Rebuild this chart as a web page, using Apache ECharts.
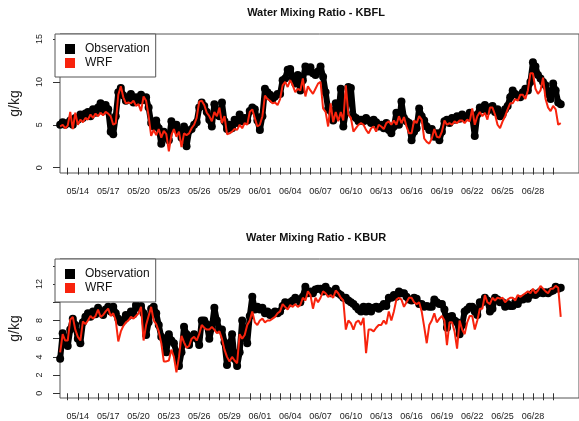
<!DOCTYPE html>
<html>
<head>
<meta charset="utf-8">
<script src="https://cdn.jsdelivr.net/npm/echarts@6/dist/echarts.min.js"></script>
<style>
  html, body { margin: 0; padding: 0; background: #fff; }
  #chart { width: 579px; height: 421px; }
</style>
</head>
<body>
<div id="chart"></div>
<script>
// Six-hourly samples; time is counted in days from the start of May
// (14 May 00:00 = 14, 1 June 00:00 = 32).
const firstSample = 12.25;   // 12 May 06:00
const sampleStep = 0.25;     // 6 hours

const dateLabels = ['05/14', '05/17', '05/20', '05/23', '05/26', '05/29', '06/01', '06/04',
                    '06/07', '06/10', '06/13', '06/16', '06/19', '06/22', '06/25', '06/28'];

const kbflTicks = [0, 5, 10, 15];
const kbflTickLabels = [0, 5, 10, 15];
const kburTicks = [0, 2, 4, 6, 8, 10, 12, 14];
const kburTickLabels = [0, 2, 4, 6, 8, 12];

// Water mixing ratio (g/kg) at KBFL
const kbflObs = [
  5.0, 5.3, 5.0,
  5.2, 5.5, 5.0, 5.8,   5.6, 6.2, 5.8, 6.3,   6.5, 6.0, 6.8, 6.4,   7.0, 7.5, 6.6, 7.3,
  6.8, 4.2, 3.9, 6.0,   8.8, 9.3, 8.4, 7.8,   8.0, 8.6, 7.6, 8.2,   7.8, 8.5, 7.9, 8.2,
  7.0, 5.2, 4.8, 5.5,   4.6, 2.8, 4.2, 3.6,   3.2, 5.4, 4.6, 5.0,   4.2, 3.5, 4.8, 2.5,
  4.3, 4.5, 5.0, 5.3,   7.0, 7.6, 7.2, 6.5,   5.6, 4.8, 7.4, 6.2,   6.0, 7.6, 5.4, 4.5,
  5.0, 4.6, 5.6, 5.2,   6.2, 5.4, 5.8, 5.5,   6.6, 7.0, 6.8, 5.5,   4.4, 6.0, 9.2, 8.8,
  8.5, 8.0, 8.3, 8.6,   8.6, 10.2, 10.4, 11.4, 11.5, 10.5, 9.8, 10.8, 9.0, 10.2, 11.8, 11.2,
  11.7, 11.0, 10.8, 11.2, 11.8, 10.6, 8.8, 6.8, 6.6, 5.5, 7.5, 6.0,  9.2, 4.8, 6.4, 9.4,
  9.3, 6.0, 5.8, 5.4,   5.6, 5.4, 5.8, 5.5,   5.2, 5.6, 5.3, 4.8,   5.0, 4.6, 5.2, 4.4,
  4.0, 4.8, 6.4, 5.0,   7.7, 5.8, 5.4, 5.2,   3.2, 4.2, 4.6, 6.9,   6.0, 5.5, 4.8, 4.4,
  4.5, 3.6, 4.0, 3.2,   4.2, 5.4, 5.6, 5.2,   5.8, 5.6, 6.0, 5.7,   6.2, 5.8, 6.0, 6.4,
  5.9, 3.7, 6.2, 7.0,   6.8, 7.3, 6.6, 7.0,   7.2, 6.5, 6.8, 6.0,   6.2, 6.8, 7.2, 8.2,
  9.0, 8.6, 8.4, 8.2,   8.8, 9.2, 9.0, 10.0,  12.3, 11.8, 10.8, 10.4, 10.0, 9.6, 8.6, 8.0,
  9.8, 9.0, 7.6, 7.4
];
const kbflWrf = [
  4.8, 5.0, 4.6,
  4.9, 6.5, 4.5, 6.4,   5.0, 5.6, 5.3, 5.8,   5.6, 6.2, 5.8, 6.3,   6.0, 6.4, 6.1, 6.5,
  6.3, 6.0, 5.0, 5.2,   8.5, 9.5, 8.2, 7.5,   7.6, 7.5, 7.8, 7.2,   7.4, 6.6, 8.3, 7.8,
  6.0, 3.7, 4.4, 3.8,   4.5, 3.5, 4.3, 3.9,   1.9, 3.8, 4.5, 3.6,   4.2, 2.4, 4.0, 3.8,
  4.0, 4.6, 5.0, 5.8,   7.7, 7.8, 7.3, 6.4,   6.0, 5.4, 6.5, 6.0,   7.0, 5.2, 6.0, 3.9,
  4.0, 4.2, 4.5, 4.4,   5.0, 4.6, 5.2, 5.0,   6.5, 6.8, 5.8, 4.8,   5.0, 6.0, 8.4, 8.0,
  7.8, 7.5, 7.6, 7.3,   8.0, 9.6, 10.0, 9.4,  10.2, 9.6, 8.8, 9.2,  9.0, 10.4, 8.3, 9.5,
  9.0, 8.6, 9.2, 9.8,   10.0, 6.9, 6.5, 4.8,  7.5, 5.3, 6.5, 5.4,   6.5, 5.5, 9.6, 6.2,
  5.8, 4.2, 4.6, 5.0,   5.2, 5.0, 4.4, 4.0,   4.6, 4.8, 4.2, 5.0,   4.8, 4.5, 5.2, 5.4,
  5.0, 5.5, 5.0, 6.0,   5.2, 5.9, 4.8, 4.0,   4.0, 5.5, 5.2, 6.0,   5.6, 3.4, 3.0, 2.8,
  3.4, 4.5, 3.6, 3.5,   4.2, 5.5, 5.0, 5.2,   5.0, 5.4, 5.2, 5.5,   5.5, 5.2, 5.6, 5.4,
  6.9, 5.0, 6.0, 6.5,   6.0, 6.4, 5.6, 7.0,   7.0, 6.2, 5.0, 4.6,   5.4, 6.0, 6.8, 7.5,
  7.5, 8.0, 7.8, 8.5,   8.5, 8.0, 9.0, 11.0,  11.0, 9.2, 8.6, 9.0,  10.5, 8.0, 7.0, 6.6,
  7.2, 6.8, 5.0, 5.2
];

// Water mixing ratio (g/kg) at KBUR
const kburObs = [
  3.8, 6.6, 6.0,
  5.2, 7.0, 8.2, 7.5,   6.0, 5.5, 7.8, 8.4,   8.8, 8.4, 9.0, 8.7,   9.4, 9.0, 8.6, 9.2,
  9.5, 9.0, 9.5, 8.8,   8.2, 7.8, 8.0, 8.6,   8.5, 9.0, 8.7, 9.7,   9.4, 9.6, 8.8, 6.4,
  7.8, 9.3, 9.5, 8.8,   7.5, 6.2, 6.0, 4.5,   6.5, 5.8, 5.5, 4.5,   3.0, 4.5, 7.3, 6.5,
  5.3, 6.2, 6.5, 6.0,   5.3, 8.0, 8.0, 7.6,   6.0, 7.2, 9.4, 8.0,   7.0, 7.0, 5.6, 3.1,
  5.0, 6.5, 3.8, 3.0,   4.5, 8.0, 6.4, 5.5,   8.5, 10.6, 9.2, 9.5,  9.2, 9.4, 8.8, 9.0,
  8.6, 8.8, 9.0, 8.8,   9.0, 9.6, 10.0, 9.8,  10.0, 10.2, 10.5, 10.3, 10.0, 10.6, 11.7, 11.0,
  11.2, 11.0, 11.4, 11.5, 11.5, 11.2, 11.7, 11.3, 11.0, 11.2, 11.5, 11.0, 10.8, 10.5, 10.5, 10.2,
  10.0, 9.8, 9.5, 9.2,  9.0, 9.5, 9.0, 9.5,   9.0, 9.4, 9.5, 9.3,   9.5, 9.8, 9.6, 10.5,
  10.5, 10.8, 10.6, 11.2, 11.0, 11.0, 10.6, 10.3, 10.2, 10.5, 10.4, 9.8, 9.8, 9.5, 9.6, 9.5,
  9.5, 10.3, 10.0, 9.8, 9.8, 9.2, 7.2, 8.4,   8.5, 8.0, 7.8, 6.5,   7.5, 9.0, 9.2, 9.5,
  9.5, 9.0, 8.6, 10.0,  10.0, 10.5, 10.2, 9.0, 9.3, 10.5, 10.3, 10.0, 10.0, 9.5, 9.8, 9.6,
  9.6, 10.0, 9.8, 10.3, 10.3, 10.5, 10.4, 10.8, 11.0, 10.8, 11.0, 11.2, 11.0, 11.1, 11.0, 11.2,
  11.3, 11.7, 11.5, 11.6
];
const kburWrf = [
  4.5, 6.5, 5.8,
  5.8, 8.1, 8.4, 7.0,   6.2, 5.8, 7.9, 7.6,   8.0, 8.5, 8.2, 8.5,   9.2, 8.4, 8.6, 9.0,
  9.3, 8.5, 8.8, 8.0,   5.7, 6.8, 7.4, 7.8,   8.0, 8.4, 8.2, 8.5,   8.8, 9.5, 5.8, 7.5,
  8.5, 9.5, 8.0, 7.6,   6.8, 5.5, 3.5, 3.5,   3.6, 4.8, 4.0, 2.3,   4.0, 6.3, 5.6, 5.0,
  5.2, 6.0, 6.2, 5.8,   6.5, 7.5, 7.2, 7.0,   7.0, 7.3, 7.0, 6.6,   6.8, 6.0, 4.8, 4.0,
  3.5, 4.0, 3.6, 3.3,   6.5, 6.0, 6.4, 7.5,   8.0, 9.0, 7.8, 7.5,   8.0, 8.2, 7.8, 8.0,
  8.0, 8.2, 8.4, 8.8,   9.0, 9.8, 9.5, 9.2,   9.7, 9.5, 9.8, 9.5,   9.7, 10.5, 10.2, 11.2,
  10.8, 9.3, 10.5, 10.0, 10.5, 11.2, 11.0, 10.6, 10.8, 10.5, 11.3, 11.0, 10.5, 10.2, 7.0, 8.0,
  7.7, 7.0, 7.8, 8.0,   7.5, 8.3, 4.4, 7.0,   7.0, 6.8, 7.2, 7.5,   7.5, 8.0, 7.6, 9.0,
  8.0, 9.0, 10.3, 10.5, 10.3, 9.5, 10.0, 10.5, 10.5, 10.0, 9.8, 10.0, 9.0, 7.3, 5.5, 7.5,
  8.0, 8.8, 7.8, 8.2,   8.5, 8.0, 5.3, 7.8,   7.8, 6.8, 4.9, 8.0,   7.0, 6.5, 7.8, 8.5,
  8.5, 7.0, 8.0, 9.3,   9.3, 10.8, 10.0, 9.8, 10.5, 10.2, 10.5, 10.4, 10.5, 10.0, 10.3, 10.5,
  10.5, 10.2, 10.8, 10.6, 10.8, 11.0, 11.2, 11.0, 11.5, 11.0, 11.3, 11.8, 11.5, 11.2, 11.0, 11.5,
  11.5, 11.8, 11.6, 8.4
];

const FONT = "'Liberation Sans', Arial, Helvetica, sans-serif";
const RED = '#f8230d';

// Pair each value with its sample time.
function timed(values) {
  return values.map((v, i) => [firstSample + i * sampleStep, v]);
}

// 'MM/DD' -> days from the start of May
function dayOf(label) {
  const [m, d] = label.split('/').map(Number);
  return m === 5 ? d : 31 + d;
}
const labelDays = dateLabels.map(dayOf);
const labelByDay = {};
dateLabels.forEach((l, i) => { labelByDay[labelDays[i]] = l; });
const tickDays = [];
for (let d = 13; d <= 61; d++) tickDays.push(d);

const X_MIN = 12.236, X_MAX = 63.556;

function makeXAxis(gridIndex) {
  return {
    type: 'value', gridIndex, min: X_MIN, max: X_MAX,
    axisLine: { show: false },
    splitLine: { show: false },
    axisTick: { show: true, length: 7, lineStyle: { color: '#333', width: 1 }, customValues: tickDays },
    axisLabel: {
      customValues: labelDays,
      formatter: v => labelByDay[Math.round(v)] || '',
      fontSize: 9, color: '#222', margin: 14, fontFamily: FONT
    }
  };
}

function makeYAxis(gridIndex, min, max, ticks, labels) {
  return {
    type: 'value', gridIndex, min, max,
    name: 'g/kg', nameLocation: 'middle', nameRotate: 90, nameGap: 38,
    nameTextStyle: { fontSize: 14, color: '#222', fontFamily: FONT },
    axisLine: { show: false },
    splitLine: { show: false },
    axisTick: { show: true, length: 7, lineStyle: { color: '#333', width: 1 }, customValues: ticks },
    axisLabel: {
      customValues: labels, rotate: 90, margin: 16,
      fontSize: 9, color: '#222', fontFamily: FONT
    }
  };
}

function makeLegend(top) {
  return {
    orient: 'vertical', left: 55, top,
    data: [{ name: 'Observation', icon: 'rect' }, { name: 'WRF', icon: 'rect' }],
    itemWidth: 10, itemHeight: 10, itemGap: 2,
    padding: [9, 6, 8, 10],
    borderColor: '#555', borderWidth: 1, backgroundColor: '#fff',
    selectedMode: false,
    textStyle: { fontSize: 12, color: '#111', fontFamily: FONT, lineHeight: 12, padding: [0, 0, 0, 5] }
  };
}

// Hourly observations overlap into a solid band: points joined by a thick stroke.
function obsSeries(axis, values) {
  return {
    name: 'Observation', type: 'line', xAxisIndex: axis, yAxisIndex: axis, data: timed(values),
    symbol: 'circle', symbolSize: 8, showSymbol: true,
    itemStyle: { color: '#000', borderWidth: 0 },
    lineStyle: { color: '#000', width: 6, join: 'round', cap: 'round' }, z: 2
  };
}
function wrfSeries(axis, values) {
  return {
    name: 'WRF', type: 'line', xAxisIndex: axis, yAxisIndex: axis, data: timed(values),
    showSymbol: false, symbol: 'none',
    lineStyle: { color: RED, width: 2 }, itemStyle: { color: RED }, z: 3
  };
}

const gridStyle = { show: true, borderColor: '#555', borderWidth: 1, backgroundColor: 'transparent' };

const option = {
  animation: false,
  backgroundColor: '#fff',
  title: [
    { text: 'Water Mixing Ratio - KBFL', left: 316, top: 7, textAlign: 'center', padding: 0,
      textStyle: { fontSize: 11, fontWeight: 'bold', color: '#111', fontFamily: FONT } },
    { text: 'Water Mixing Ratio - KBUR', left: 316, top: 232, textAlign: 'center', padding: 0,
      textStyle: { fontSize: 11, fontWeight: 'bold', color: '#111', fontFamily: FONT } }
  ],
  legend: [makeLegend(34), makeLegend(259)],
  grid: [
    Object.assign({ left: 55, top: 34, right: -20, height: 139 }, gridStyle),
    Object.assign({ left: 55, top: 259, right: -20, height: 139 }, gridStyle)
  ],
  xAxis: [makeXAxis(0), makeXAxis(1)],
  yAxis: [
    makeYAxis(0, -0.62, 15.58, kbflTicks, kbflTickLabels),
    makeYAxis(1, -0.52, 14.76, kburTicks, kburTickLabels)
  ],
  series: [
    obsSeries(0, kbflObs), wrfSeries(0, kbflWrf),
    obsSeries(1, kburObs), wrfSeries(1, kburWrf)
  ]
};

const chart = echarts.init(document.getElementById('chart'), null, { renderer: 'canvas' });
chart.setOption(option);
</script>
</body>
</html>
